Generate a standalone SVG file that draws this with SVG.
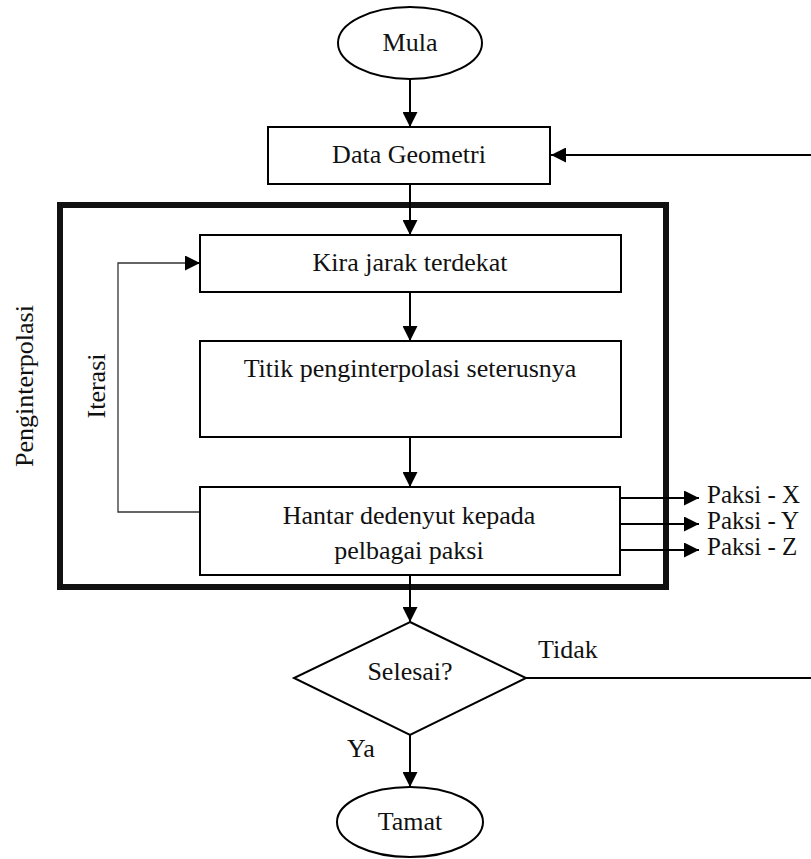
<svg xmlns="http://www.w3.org/2000/svg" width="811" height="859" viewBox="0 0 811 859">
<defs>
<marker id="ah" markerWidth="15" markerHeight="15" refX="15" refY="7.5" orient="auto" markerUnits="userSpaceOnUse">
<path d="M0,0 L15,7.5 L0,15 Z" fill="#000"/>
</marker>
<style>
text{font-family:'Liberation Serif','Times New Roman',serif;font-size:26px;fill:#111;}
.c{text-anchor:middle;}
.p{font-size:25px;}
.shape{fill:#fff;stroke:#000;stroke-width:2;}
.ln{fill:none;stroke:#000;stroke-width:2;}
.thin{fill:none;stroke:#333;stroke-width:1.3;}
</style>
</defs>
<rect width="811" height="859" fill="#fff"/>
<g id="group-box">
<rect x="60" y="205" width="606" height="382" fill="none" stroke="#111" stroke-width="6"/>
<text transform="translate(33,386) rotate(-90)" class="c">Penginterpolasi</text>
<text transform="translate(105,386) rotate(-90)" class="c">Iterasi</text>
</g>
<g id="connectors">
<line class="ln" x1="410" y1="79" x2="410" y2="127" marker-end="url(#ah)"/>
<line class="ln" x1="811" y1="155" x2="551" y2="155" marker-end="url(#ah)"/>
<line class="ln" x1="410" y1="184" x2="410" y2="235" marker-end="url(#ah)"/>
<line class="ln" x1="410" y1="292" x2="410" y2="341" marker-end="url(#ah)"/>
<line class="ln" x1="410" y1="437" x2="410" y2="487" marker-end="url(#ah)"/>
<polyline class="thin" points="200,512 118,512 118,263 186,263"/>
<line class="ln" x1="186" y1="263" x2="200" y2="263" marker-end="url(#ah)"/>
<line class="ln" x1="620" y1="498" x2="699" y2="498" marker-end="url(#ah)"/>
<line class="ln" x1="620" y1="524" x2="699" y2="524" marker-end="url(#ah)"/>
<line class="ln" x1="620" y1="550" x2="699" y2="550" marker-end="url(#ah)"/>
<line class="ln" x1="410" y1="575" x2="410" y2="622" marker-end="url(#ah)"/>
<line class="ln" x1="526" y1="678" x2="811" y2="678"/>
<line class="ln" x1="410" y1="735" x2="410" y2="787" marker-end="url(#ah)"/>
<text x="538" y="658">Tidak</text>
<text x="347" y="757">Ya</text>
<text x="707" y="503" class="p">Paksi - X</text>
<text x="707" y="529" class="p">Paksi - Y</text>
<text x="707" y="555" class="p">Paksi - Z</text>
</g>
<g id="mula">
<ellipse class="shape" cx="410" cy="43" rx="72" ry="36"/>
<text x="410" y="51" class="c">Mula</text>
</g>
<g id="data-geometri">
<rect class="shape" x="268" y="127" width="282" height="57"/>
<text x="409" y="163" class="c">Data Geometri</text>
</g>
<g id="kira">
<rect class="shape" x="200" y="235" width="421" height="57"/>
<text x="410" y="271" class="c">Kira jarak terdekat</text>
</g>
<g id="titik">
<rect class="shape" x="200" y="341" width="421" height="96"/>
<text x="410" y="377" class="c">Titik penginterpolasi seterusnya</text>
</g>
<g id="hantar">
<rect class="shape" x="200" y="487" width="420" height="88"/>
<text x="409" y="524" class="c">Hantar dedenyut kepada</text>
<text x="409" y="559" class="c">pelbagai paksi</text>
</g>
<g id="selesai">
<polygon class="shape" points="410,622 526,678 410,735 294,678"/>
<text x="410" y="680" class="c">Selesai?</text>
</g>
<g id="tamat">
<ellipse class="shape" cx="410" cy="822" rx="73" ry="35"/>
<text x="410" y="830" class="c">Tamat</text>
</g>
</svg>
